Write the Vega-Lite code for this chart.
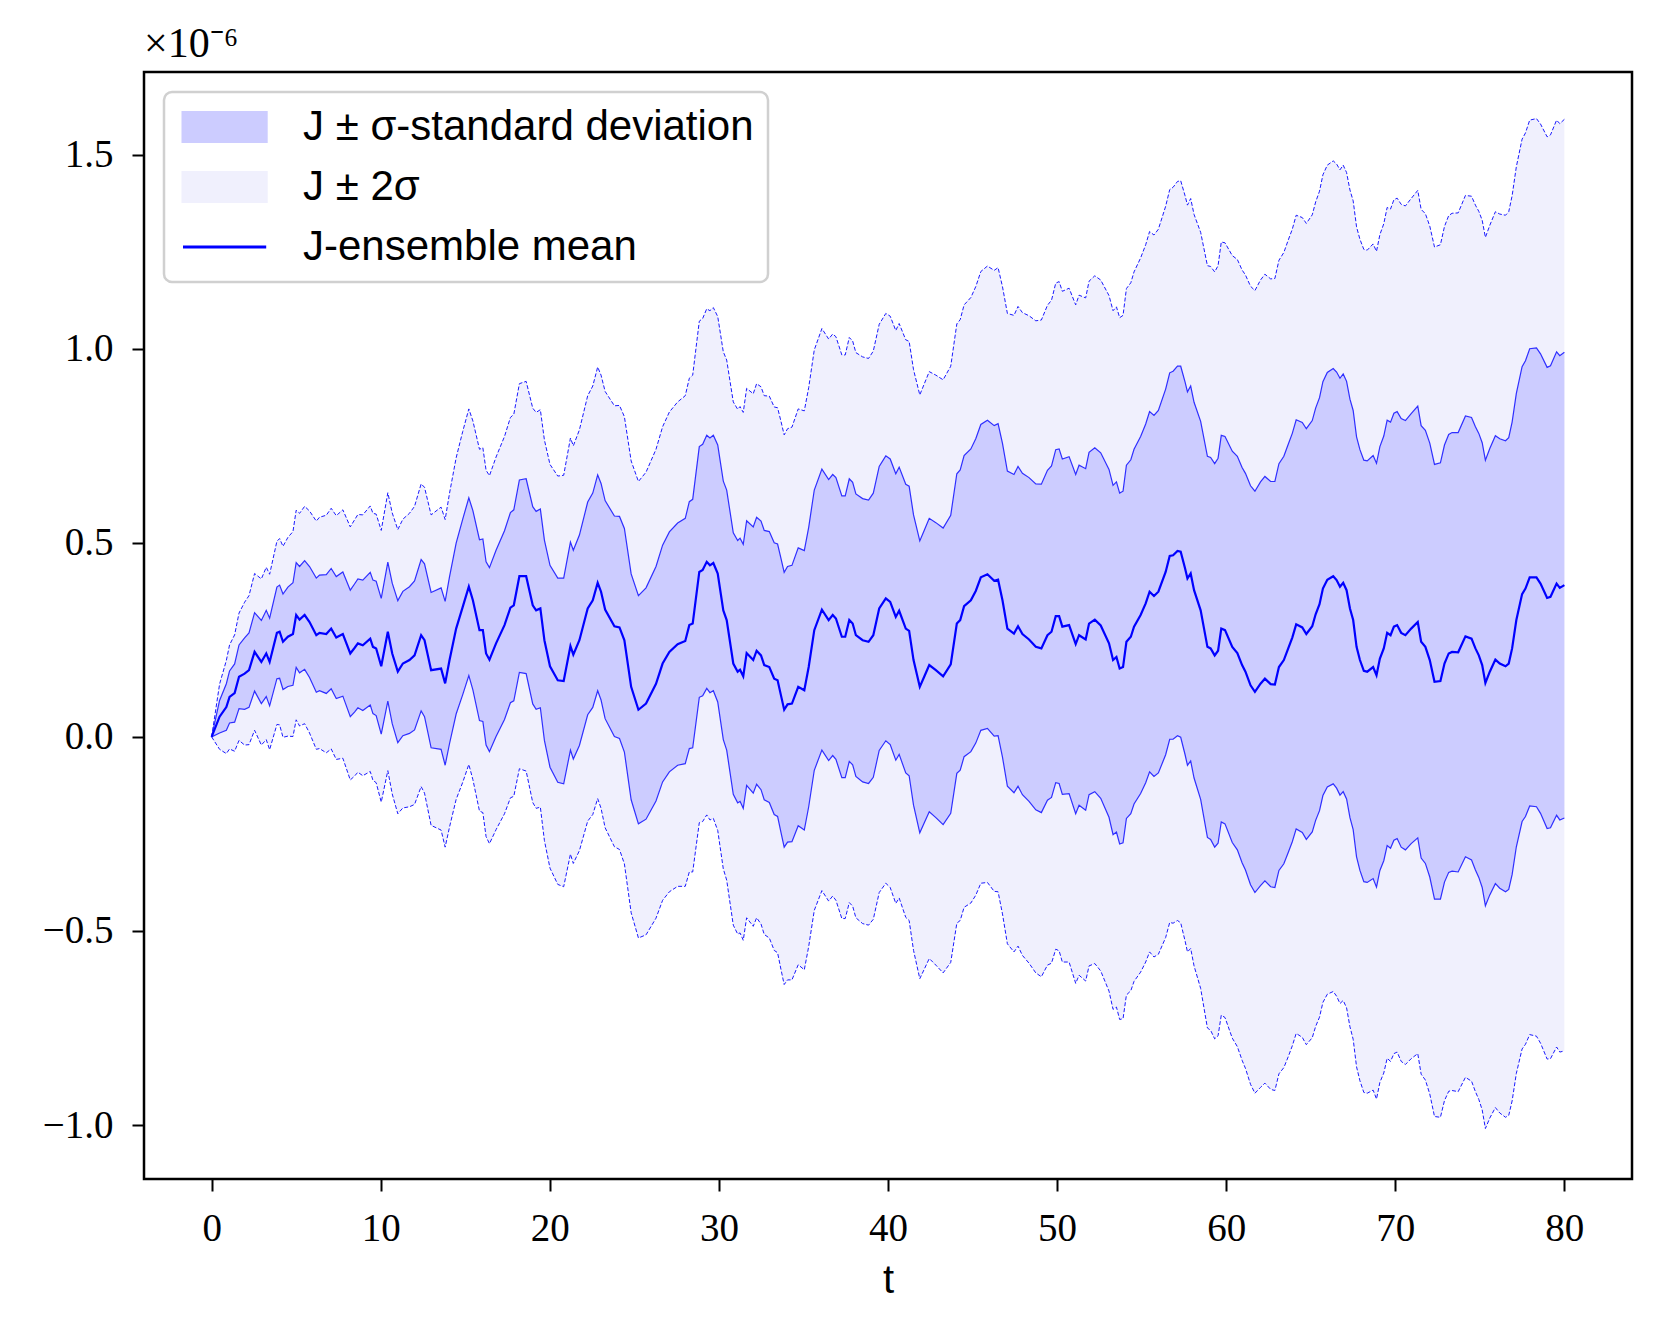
{
"$schema": "https://vega.github.io/schema/vega-lite/v6.json",
"width": 1488, "height": 1107,
"autosize": {"type": "none"},
"padding": {"left": 144, "top": 72, "right": 30, "bottom": 154},
"background": "white",
"title": {"text": "×10⁻⁶", "anchor": "start", "frame": "group", "font": "Liberation Serif", "fontSize": 42, "fontWeight": "normal", "offset": 6, "color": "black"},
"config": {
  "view": {"stroke": "black", "strokeWidth": 2.5},
  "axis": {"domain": false, "grid": false, "tickColor": "black", "tickWidth": 2, "tickSize": 12, "labelColor": "black", "labelFont": "Liberation Serif", "labelFontSize": 39, "titleColor": "black"},
  "legend": {"orient": "top-left", "offset": 20, "title": null, "labelFont": "Liberation Sans", "labelFontSize": 42, "labelColor": "black", "labelOffset": 83, "padding": 14, "rowPadding": 18, "cornerRadius": 8, "strokeColor": "#d0d0d0", "strokeWidth": 2.5, "fillColor": "rgba(255,255,255,0.85)", "symbolSize": 1024, "symbolStrokeWidth": 3, "symbolType": "M-1,-0.9H4.2V0.9H-1Z", "labelLimit": 900}
},
"data": {"values": [
{"t":0,"mean":0,"lo2":0,"lo1":0,"hi1":0,"hi2":0},
{"t":0.47,"mean":0.052,"lo2":-0.032,"lo1":0.010,"hi1":0.094,"hi2":0.136},
{"t":0.87,"mean":0.077,"lo2":-0.043,"lo1":0.017,"hi1":0.137,"hi2":0.197},
{"t":1.06,"mean":0.103,"lo2":-0.031,"lo1":0.036,"hi1":0.170,"hi2":0.237},
{"t":1.36,"mean":0.113,"lo2":-0.037,"lo1":0.038,"hi1":0.188,"hi2":0.263},
{"t":1.62,"mean":0.155,"lo2":-0.009,"lo1":0.073,"hi1":0.237,"hi2":0.319},
{"t":1.95,"mean":0.163,"lo2":-0.021,"lo1":0.071,"hi1":0.255,"hi2":0.347},
{"t":2.21,"mean":0.172,"lo2":-0.020,"lo1":0.076,"hi1":0.268,"hi2":0.364},
{"t":2.54,"mean":0.219,"lo2":0.017,"lo1":0.118,"hi1":0.320,"hi2":0.421},
{"t":2.94,"mean":0.193,"lo2":-0.021,"lo1":0.086,"hi1":0.300,"hi2":0.407},
{"t":3.23,"mean":0.215,"lo2":-0.007,"lo1":0.104,"hi1":0.326,"hi2":0.437},
{"t":3.43,"mean":0.193,"lo2":-0.033,"lo1":0.080,"hi1":0.306,"hi2":0.419},
{"t":3.86,"mean":0.268,"lo2":0.032,"lo1":0.150,"hi1":0.386,"hi2":0.504},
{"t":4.02,"mean":0.271,"lo2":0.031,"lo1":0.151,"hi1":0.391,"hi2":0.511},
{"t":4.22,"mean":0.245,"lo2":-0.001,"lo1":0.122,"hi1":0.368,"hi2":0.491},
{"t":4.51,"mean":0.258,"lo2":0.002,"lo1":0.130,"hi1":0.386,"hi2":0.514},
{"t":4.81,"mean":0.265,"lo2":0.001,"lo1":0.133,"hi1":0.397,"hi2":0.529},
{"t":5.0,"mean":0.314,"lo2":0.044,"lo1":0.179,"hi1":0.449,"hi2":0.584},
{"t":5.2,"mean":0.302,"lo2":0.028,"lo1":0.165,"hi1":0.439,"hi2":0.576},
{"t":5.5,"mean":0.314,"lo2":0.034,"lo1":0.174,"hi1":0.454,"hi2":0.594},
{"t":5.79,"mean":0.296,"lo2":0.010,"lo1":0.153,"hi1":0.439,"hi2":0.582},
{"t":6.19,"mean":0.262,"lo2":-0.032,"lo1":0.115,"hi1":0.409,"hi2":0.556},
{"t":6.38,"mean":0.268,"lo2":-0.030,"lo1":0.119,"hi1":0.417,"hi2":0.566},
{"t":6.78,"mean":0.265,"lo2":-0.041,"lo1":0.112,"hi1":0.418,"hi2":0.571},
{"t":7.07,"mean":0.279,"lo2":-0.031,"lo1":0.124,"hi1":0.434,"hi2":0.589},
{"t":7.37,"mean":0.256,"lo2":-0.058,"lo1":0.099,"hi1":0.413,"hi2":0.570},
{"t":7.76,"mean":0.265,"lo2":-0.055,"lo1":0.105,"hi1":0.425,"hi2":0.585},
{"t":8.2,"mean":0.215,"lo2":-0.111,"lo1":0.052,"hi1":0.378,"hi2":0.541},
{"t":8.45,"mean":0.229,"lo2":-0.101,"lo1":0.064,"hi1":0.394,"hi2":0.559},
{"t":8.65,"mean":0.241,"lo2":-0.091,"lo1":0.075,"hi1":0.407,"hi2":0.573},
{"t":8.94,"mean":0.236,"lo2":-0.100,"lo1":0.068,"hi1":0.404,"hi2":0.572},
{"t":9.38,"mean":0.253,"lo2":-0.089,"lo1":0.082,"hi1":0.424,"hi2":0.595},
{"t":9.54,"mean":0.232,"lo2":-0.112,"lo1":0.060,"hi1":0.404,"hi2":0.576},
{"t":9.73,"mean":0.228,"lo2":-0.118,"lo1":0.055,"hi1":0.401,"hi2":0.574},
{"t":10.03,"mean":0.182,"lo2":-0.168,"lo1":0.007,"hi1":0.357,"hi2":0.532},
{"t":10.42,"mean":0.271,"lo2":-0.087,"lo1":0.092,"hi1":0.450,"hi2":0.629},
{"t":10.68,"mean":0.215,"lo2":-0.147,"lo1":0.034,"hi1":0.396,"hi2":0.577},
{"t":11.01,"mean":0.168,"lo2":-0.198,"lo1":-0.015,"hi1":0.351,"hi2":0.534},
{"t":11.31,"mean":0.189,"lo2":-0.183,"lo1":0.003,"hi1":0.375,"hi2":0.561},
{"t":11.7,"mean":0.198,"lo2":-0.180,"lo1":0.009,"hi1":0.387,"hi2":0.576},
{"t":12.0,"mean":0.210,"lo2":-0.174,"lo1":0.018,"hi1":0.402,"hi2":0.594},
{"t":12.39,"mean":0.262,"lo2":-0.128,"lo1":0.067,"hi1":0.457,"hi2":0.652},
{"t":12.59,"mean":0.249,"lo2":-0.145,"lo1":0.052,"hi1":0.446,"hi2":0.643},
{"t":12.98,"mean":0.172,"lo2":-0.228,"lo1":-0.028,"hi1":0.372,"hi2":0.572},
{"t":13.57,"mean":0.176,"lo2":-0.240,"lo1":-0.032,"hi1":0.384,"hi2":0.592},
{"t":13.81,"mean":0.138,"lo2":-0.284,"lo1":-0.073,"hi1":0.349,"hi2":0.560},
{"t":14.07,"mean":0.198,"lo2":-0.232,"lo1":-0.017,"hi1":0.413,"hi2":0.628},
{"t":14.46,"mean":0.279,"lo2":-0.161,"lo1":0.059,"hi1":0.499,"hi2":0.719},
{"t":14.85,"mean":0.335,"lo2":-0.117,"lo1":0.109,"hi1":0.561,"hi2":0.787},
{"t":15.21,"mean":0.387,"lo2":-0.071,"lo1":0.158,"hi1":0.616,"hi2":0.845},
{"t":15.45,"mean":0.352,"lo2":-0.110,"lo1":0.121,"hi1":0.583,"hi2":0.814},
{"t":15.84,"mean":0.275,"lo2":-0.191,"lo1":0.042,"hi1":0.508,"hi2":0.741},
{"t":16.04,"mean":0.275,"lo2":-0.195,"lo1":0.040,"hi1":0.510,"hi2":0.745},
{"t":16.23,"mean":0.215,"lo2":-0.257,"lo1":-0.021,"hi1":0.451,"hi2":0.687},
{"t":16.43,"mean":0.199,"lo2":-0.275,"lo1":-0.038,"hi1":0.436,"hi2":0.673},
{"t":16.82,"mean":0.241,"lo2":-0.239,"lo1":0.001,"hi1":0.481,"hi2":0.721},
{"t":17.32,"mean":0.288,"lo2":-0.198,"lo1":0.045,"hi1":0.531,"hi2":0.774},
{"t":17.67,"mean":0.333,"lo2":-0.157,"lo1":0.088,"hi1":0.578,"hi2":0.823},
{"t":17.87,"mean":0.339,"lo2":-0.153,"lo1":0.093,"hi1":0.585,"hi2":0.831},
{"t":18.2,"mean":0.414,"lo2":-0.082,"lo1":0.166,"hi1":0.662,"hi2":0.910},
{"t":18.6,"mean":0.414,"lo2":-0.088,"lo1":0.163,"hi1":0.665,"hi2":0.916},
{"t":18.99,"mean":0.339,"lo2":-0.169,"lo1":0.085,"hi1":0.593,"hi2":0.847},
{"t":19.19,"mean":0.326,"lo2":-0.184,"lo1":0.071,"hi1":0.581,"hi2":0.836},
{"t":19.44,"mean":0.331,"lo2":-0.181,"lo1":0.075,"hi1":0.587,"hi2":0.843},
{"t":19.68,"mean":0.249,"lo2":-0.267,"lo1":-0.009,"hi1":0.507,"hi2":0.765},
{"t":20.01,"mean":0.182,"lo2":-0.338,"lo1":-0.078,"hi1":0.442,"hi2":0.702},
{"t":20.47,"mean":0.146,"lo2":-0.380,"lo1":-0.117,"hi1":0.409,"hi2":0.672},
{"t":20.82,"mean":0.144,"lo2":-0.386,"lo1":-0.121,"hi1":0.409,"hi2":0.674},
{"t":21.22,"mean":0.234,"lo2":-0.302,"lo1":-0.034,"hi1":0.502,"hi2":0.770},
{"t":21.39,"mean":0.212,"lo2":-0.326,"lo1":-0.057,"hi1":0.481,"hi2":0.750},
{"t":21.75,"mean":0.249,"lo2":-0.293,"lo1":-0.022,"hi1":0.520,"hi2":0.791},
{"t":22.24,"mean":0.331,"lo2":-0.217,"lo1":0.057,"hi1":0.605,"hi2":0.879},
{"t":22.54,"mean":0.352,"lo2":-0.200,"lo1":0.076,"hi1":0.628,"hi2":0.904},
{"t":22.83,"mean":0.397,"lo2":-0.159,"lo1":0.119,"hi1":0.675,"hi2":0.953},
{"t":23.03,"mean":0.374,"lo2":-0.184,"lo1":0.095,"hi1":0.653,"hi2":0.932},
{"t":23.27,"mean":0.328,"lo2":-0.234,"lo1":0.047,"hi1":0.609,"hi2":0.890},
{"t":23.82,"mean":0.285,"lo2":-0.283,"lo1":0.001,"hi1":0.569,"hi2":0.853},
{"t":24.12,"mean":0.282,"lo2":-0.290,"lo1":-0.004,"hi1":0.568,"hi2":0.854},
{"t":24.41,"mean":0.249,"lo2":-0.327,"lo1":-0.039,"hi1":0.537,"hi2":0.825},
{"t":24.81,"mean":0.129,"lo2":-0.453,"lo1":-0.162,"hi1":0.420,"hi2":0.711},
{"t":25.24,"mean":0.070,"lo2":-0.518,"lo1":-0.224,"hi1":0.364,"hi2":0.658},
{"t":25.69,"mean":0.086,"lo2":-0.510,"lo1":-0.212,"hi1":0.384,"hi2":0.682},
{"t":26.28,"mean":0.137,"lo2":-0.467,"lo1":-0.165,"hi1":0.439,"hi2":0.741},
{"t":26.67,"mean":0.189,"lo2":-0.421,"lo1":-0.116,"hi1":0.494,"hi2":0.799},
{"t":27.07,"mean":0.219,"lo2":-0.399,"lo1":-0.090,"hi1":0.528,"hi2":0.837},
{"t":27.56,"mean":0.239,"lo2":-0.385,"lo1":-0.073,"hi1":0.551,"hi2":0.863},
{"t":28.01,"mean":0.247,"lo2":-0.385,"lo1":-0.069,"hi1":0.563,"hi2":0.879},
{"t":28.25,"mean":0.288,"lo2":-0.348,"lo1":-0.030,"hi1":0.606,"hi2":0.924},
{"t":28.45,"mean":0.292,"lo2":-0.348,"lo1":-0.028,"hi1":0.612,"hi2":0.932},
{"t":28.84,"mean":0.425,"lo2":-0.221,"lo1":0.102,"hi1":0.748,"hi2":1.071},
{"t":29.04,"mean":0.430,"lo2":-0.218,"lo1":0.106,"hi1":0.754,"hi2":1.078},
{"t":29.28,"mean":0.451,"lo2":-0.201,"lo1":0.125,"hi1":0.777,"hi2":1.103},
{"t":29.47,"mean":0.442,"lo2":-0.214,"lo1":0.114,"hi1":0.770,"hi2":1.098},
{"t":29.67,"mean":0.448,"lo2":-0.210,"lo1":0.119,"hi1":0.777,"hi2":1.106},
{"t":29.93,"mean":0.421,"lo2":-0.241,"lo1":0.090,"hi1":0.752,"hi2":1.083},
{"t":30.26,"mean":0.326,"lo2":-0.340,"lo1":-0.007,"hi1":0.659,"hi2":0.992},
{"t":30.46,"mean":0.301,"lo2":-0.369,"lo1":-0.034,"hi1":0.636,"hi2":0.971},
{"t":30.85,"mean":0.189,"lo2":-0.485,"lo1":-0.148,"hi1":0.526,"hi2":0.863},
{"t":31.11,"mean":0.168,"lo2":-0.508,"lo1":-0.170,"hi1":0.506,"hi2":0.844},
{"t":31.25,"mean":0.173,"lo2":-0.505,"lo1":-0.166,"hi1":0.512,"hi2":0.851},
{"t":31.44,"mean":0.156,"lo2":-0.524,"lo1":-0.184,"hi1":0.496,"hi2":0.836},
{"t":31.64,"mean":0.216,"lo2":-0.466,"lo1":-0.125,"hi1":0.557,"hi2":0.898},
{"t":32.03,"mean":0.198,"lo2":-0.488,"lo1":-0.145,"hi1":0.541,"hi2":0.884},
{"t":32.23,"mean":0.222,"lo2":-0.466,"lo1":-0.122,"hi1":0.566,"hi2":0.910},
{"t":32.49,"mean":0.210,"lo2":-0.482,"lo1":-0.136,"hi1":0.556,"hi2":0.902},
{"t":32.68,"mean":0.185,"lo2":-0.509,"lo1":-0.162,"hi1":0.532,"hi2":0.879},
{"t":32.98,"mean":0.180,"lo2":-0.518,"lo1":-0.169,"hi1":0.529,"hi2":0.878},
{"t":33.27,"mean":0.150,"lo2":-0.550,"lo1":-0.200,"hi1":0.500,"hi2":0.850},
{"t":33.47,"mean":0.146,"lo2":-0.556,"lo1":-0.205,"hi1":0.497,"hi2":0.848},
{"t":33.67,"mean":0.107,"lo2":-0.599,"lo1":-0.246,"hi1":0.460,"hi2":0.813},
{"t":33.86,"mean":0.070,"lo2":-0.638,"lo1":-0.284,"hi1":0.424,"hi2":0.778},
{"t":34.06,"mean":0.084,"lo2":-0.626,"lo1":-0.271,"hi1":0.439,"hi2":0.794},
{"t":34.32,"mean":0.086,"lo2":-0.626,"lo1":-0.270,"hi1":0.442,"hi2":0.798},
{"t":34.69,"mean":0.129,"lo2":-0.587,"lo1":-0.229,"hi1":0.487,"hi2":0.845},
{"t":35.05,"mean":0.120,"lo2":-0.600,"lo1":-0.240,"hi1":0.480,"hi2":0.840},
{"t":35.31,"mean":0.180,"lo2":-0.540,"lo1":-0.180,"hi1":0.540,"hi2":0.900},
{"t":35.64,"mean":0.275,"lo2":-0.447,"lo1":-0.086,"hi1":0.636,"hi2":0.997},
{"t":36.09,"mean":0.328,"lo2":-0.396,"lo1":-0.034,"hi1":0.690,"hi2":1.052},
{"t":36.49,"mean":0.301,"lo2":-0.423,"lo1":-0.061,"hi1":0.663,"hi2":1.025},
{"t":36.73,"mean":0.314,"lo2":-0.410,"lo1":-0.048,"hi1":0.676,"hi2":1.038},
{"t":36.92,"mean":0.305,"lo2":-0.421,"lo1":-0.058,"hi1":0.668,"hi2":1.031},
{"t":37.27,"mean":0.258,"lo2":-0.468,"lo1":-0.105,"hi1":0.621,"hi2":0.984},
{"t":37.47,"mean":0.258,"lo2":-0.468,"lo1":-0.105,"hi1":0.621,"hi2":0.984},
{"t":37.71,"mean":0.301,"lo2":-0.427,"lo1":-0.063,"hi1":0.665,"hi2":1.029},
{"t":37.91,"mean":0.292,"lo2":-0.436,"lo1":-0.072,"hi1":0.656,"hi2":1.020},
{"t":38.1,"mean":0.262,"lo2":-0.466,"lo1":-0.102,"hi1":0.626,"hi2":0.990},
{"t":38.5,"mean":0.249,"lo2":-0.481,"lo1":-0.116,"hi1":0.614,"hi2":0.979},
{"t":38.85,"mean":0.245,"lo2":-0.485,"lo1":-0.120,"hi1":0.610,"hi2":0.975},
{"t":39.13,"mean":0.262,"lo2":-0.470,"lo1":-0.104,"hi1":0.628,"hi2":0.994},
{"t":39.48,"mean":0.331,"lo2":-0.401,"lo1":-0.035,"hi1":0.697,"hi2":1.063},
{"t":39.87,"mean":0.357,"lo2":-0.377,"lo1":-0.010,"hi1":0.724,"hi2":1.091},
{"t":40.13,"mean":0.348,"lo2":-0.388,"lo1":-0.020,"hi1":0.716,"hi2":1.084},
{"t":40.46,"mean":0.309,"lo2":-0.429,"lo1":-0.060,"hi1":0.678,"hi2":1.047},
{"t":40.66,"mean":0.325,"lo2":-0.415,"lo1":-0.045,"hi1":0.695,"hi2":1.065},
{"t":41.05,"mean":0.279,"lo2":-0.465,"lo1":-0.093,"hi1":0.651,"hi2":1.023},
{"t":41.25,"mean":0.273,"lo2":-0.473,"lo1":-0.100,"hi1":0.646,"hi2":1.019},
{"t":41.51,"mean":0.198,"lo2":-0.550,"lo1":-0.176,"hi1":0.572,"hi2":0.946},
{"t":41.88,"mean":0.129,"lo2":-0.623,"lo1":-0.247,"hi1":0.505,"hi2":0.881},
{"t":42.14,"mean":0.155,"lo2":-0.599,"lo1":-0.222,"hi1":0.532,"hi2":0.909},
{"t":42.44,"mean":0.185,"lo2":-0.571,"lo1":-0.193,"hi1":0.563,"hi2":0.941},
{"t":42.83,"mean":0.172,"lo2":-0.588,"lo1":-0.208,"hi1":0.552,"hi2":0.932},
{"t":43.26,"mean":0.156,"lo2":-0.608,"lo1":-0.226,"hi1":0.538,"hi2":0.920},
{"t":43.71,"mean":0.187,"lo2":-0.581,"lo1":-0.197,"hi1":0.571,"hi2":0.955},
{"t":44.07,"mean":0.292,"lo2":-0.480,"lo1":-0.094,"hi1":0.678,"hi2":1.064},
{"t":44.27,"mean":0.301,"lo2":-0.473,"lo1":-0.086,"hi1":0.688,"hi2":1.075},
{"t":44.5,"mean":0.337,"lo2":-0.439,"lo1":-0.051,"hi1":0.725,"hi2":1.113},
{"t":44.9,"mean":0.352,"lo2":-0.428,"lo1":-0.038,"hi1":0.742,"hi2":1.132},
{"t":45.19,"mean":0.376,"lo2":-0.408,"lo1":-0.016,"hi1":0.768,"hi2":1.160},
{"t":45.49,"mean":0.411,"lo2":-0.377,"lo1":0.017,"hi1":0.805,"hi2":1.199},
{"t":45.88,"mean":0.419,"lo2":-0.375,"lo1":0.022,"hi1":0.816,"hi2":1.213},
{"t":46.28,"mean":0.402,"lo2":-0.398,"lo1":0.002,"hi1":0.802,"hi2":1.202},
{"t":46.51,"mean":0.405,"lo2":-0.399,"lo1":0.003,"hi1":0.807,"hi2":1.209},
{"t":46.77,"mean":0.352,"lo2":-0.456,"lo1":-0.052,"hi1":0.756,"hi2":1.160},
{"t":47.06,"mean":0.279,"lo2":-0.533,"lo1":-0.127,"hi1":0.685,"hi2":1.091},
{"t":47.45,"mean":0.266,"lo2":-0.554,"lo1":-0.144,"hi1":0.676,"hi2":1.086},
{"t":47.69,"mean":0.285,"lo2":-0.539,"lo1":-0.127,"hi1":0.697,"hi2":1.109},
{"t":47.95,"mean":0.265,"lo2":-0.563,"lo1":-0.149,"hi1":0.679,"hi2":1.093},
{"t":48.34,"mean":0.251,"lo2":-0.583,"lo1":-0.166,"hi1":0.668,"hi2":1.085},
{"t":48.74,"mean":0.232,"lo2":-0.608,"lo1":-0.188,"hi1":0.652,"hi2":1.072},
{"t":49.07,"mean":0.228,"lo2":-0.618,"lo1":-0.195,"hi1":0.651,"hi2":1.074},
{"t":49.43,"mean":0.262,"lo2":-0.588,"lo1":-0.163,"hi1":0.687,"hi2":1.112},
{"t":49.67,"mean":0.271,"lo2":-0.583,"lo1":-0.156,"hi1":0.698,"hi2":1.125},
{"t":49.92,"mean":0.311,"lo2":-0.547,"lo1":-0.118,"hi1":0.740,"hi2":1.169},
{"t":50.12,"mean":0.311,"lo2":-0.551,"lo1":-0.120,"hi1":0.742,"hi2":1.173},
{"t":50.31,"mean":0.284,"lo2":-0.580,"lo1":-0.148,"hi1":0.716,"hi2":1.148},
{"t":50.71,"mean":0.288,"lo2":-0.580,"lo1":-0.146,"hi1":0.722,"hi2":1.156},
{"t":51.1,"mean":0.239,"lo2":-0.635,"lo1":-0.198,"hi1":0.676,"hi2":1.113},
{"t":51.3,"mean":0.262,"lo2":-0.614,"lo1":-0.176,"hi1":0.700,"hi2":1.138},
{"t":51.69,"mean":0.251,"lo2":-0.629,"lo1":-0.189,"hi1":0.691,"hi2":1.131},
{"t":51.89,"mean":0.292,"lo2":-0.590,"lo1":-0.149,"hi1":0.733,"hi2":1.174},
{"t":52.23,"mean":0.302,"lo2":-0.584,"lo1":-0.141,"hi1":0.745,"hi2":1.188},
{"t":52.58,"mean":0.287,"lo2":-0.603,"lo1":-0.158,"hi1":0.732,"hi2":1.177},
{"t":53.07,"mean":0.241,"lo2":-0.655,"lo1":-0.207,"hi1":0.689,"hi2":1.137},
{"t":53.31,"mean":0.198,"lo2":-0.702,"lo1":-0.252,"hi1":0.648,"hi2":1.098},
{"t":53.51,"mean":0.206,"lo2":-0.696,"lo1":-0.245,"hi1":0.657,"hi2":1.108},
{"t":53.7,"mean":0.176,"lo2":-0.728,"lo1":-0.276,"hi1":0.628,"hi2":1.080},
{"t":53.9,"mean":0.180,"lo2":-0.726,"lo1":-0.273,"hi1":0.633,"hi2":1.086},
{"t":54.1,"mean":0.245,"lo2":-0.665,"lo1":-0.210,"hi1":0.700,"hi2":1.155},
{"t":54.36,"mean":0.258,"lo2":-0.654,"lo1":-0.198,"hi1":0.714,"hi2":1.170},
{"t":54.55,"mean":0.284,"lo2":-0.630,"lo1":-0.173,"hi1":0.741,"hi2":1.198},
{"t":54.94,"mean":0.314,"lo2":-0.606,"lo1":-0.146,"hi1":0.774,"hi2":1.234},
{"t":55.24,"mean":0.344,"lo2":-0.580,"lo1":-0.118,"hi1":0.806,"hi2":1.268},
{"t":55.47,"mean":0.374,"lo2":-0.554,"lo1":-0.090,"hi1":0.838,"hi2":1.302},
{"t":55.73,"mean":0.363,"lo2":-0.567,"lo1":-0.102,"hi1":0.828,"hi2":1.293},
{"t":55.99,"mean":0.374,"lo2":-0.560,"lo1":-0.093,"hi1":0.841,"hi2":1.308},
{"t":56.42,"mean":0.425,"lo2":-0.517,"lo1":-0.046,"hi1":0.896,"hi2":1.367},
{"t":56.66,"mean":0.466,"lo2":-0.478,"lo1":-0.006,"hi1":0.938,"hi2":1.410},
{"t":56.86,"mean":0.468,"lo2":-0.480,"lo1":-0.006,"hi1":0.942,"hi2":1.416},
{"t":57.12,"mean":0.479,"lo2":-0.473,"lo1":0.003,"hi1":0.955,"hi2":1.431},
{"t":57.31,"mean":0.477,"lo2":-0.479,"lo1":-0.001,"hi1":0.955,"hi2":1.433},
{"t":57.57,"mean":0.434,"lo2":-0.526,"lo1":-0.046,"hi1":0.914,"hi2":1.394},
{"t":57.71,"mean":0.408,"lo2":-0.554,"lo1":-0.073,"hi1":0.889,"hi2":1.370},
{"t":57.9,"mean":0.421,"lo2":-0.545,"lo1":-0.062,"hi1":0.904,"hi2":1.387},
{"t":58.1,"mean":0.378,"lo2":-0.590,"lo1":-0.106,"hi1":0.862,"hi2":1.346},
{"t":58.49,"mean":0.326,"lo2":-0.648,"lo1":-0.161,"hi1":0.813,"hi2":1.300},
{"t":58.89,"mean":0.232,"lo2":-0.750,"lo1":-0.259,"hi1":0.723,"hi2":1.214},
{"t":59.08,"mean":0.228,"lo2":-0.756,"lo1":-0.264,"hi1":0.720,"hi2":1.212},
{"t":59.32,"mean":0.210,"lo2":-0.778,"lo1":-0.284,"hi1":0.704,"hi2":1.198},
{"t":59.52,"mean":0.222,"lo2":-0.770,"lo1":-0.274,"hi1":0.718,"hi2":1.214},
{"t":59.71,"mean":0.279,"lo2":-0.717,"lo1":-0.219,"hi1":0.777,"hi2":1.275},
{"t":59.93,"mean":0.275,"lo2":-0.723,"lo1":-0.224,"hi1":0.774,"hi2":1.273},
{"t":60.36,"mean":0.232,"lo2":-0.776,"lo1":-0.272,"hi1":0.736,"hi2":1.240},
{"t":60.66,"mean":0.216,"lo2":-0.798,"lo1":-0.291,"hi1":0.723,"hi2":1.230},
{"t":60.94,"mean":0.185,"lo2":-0.833,"lo1":-0.324,"hi1":0.694,"hi2":1.203},
{"t":61.14,"mean":0.168,"lo2":-0.854,"lo1":-0.343,"hi1":0.679,"hi2":1.190},
{"t":61.44,"mean":0.133,"lo2":-0.895,"lo1":-0.381,"hi1":0.647,"hi2":1.161},
{"t":61.7,"mean":0.116,"lo2":-0.918,"lo1":-0.401,"hi1":0.633,"hi2":1.150},
{"t":62.03,"mean":0.137,"lo2":-0.903,"lo1":-0.383,"hi1":0.657,"hi2":1.177},
{"t":62.29,"mean":0.150,"lo2":-0.892,"lo1":-0.371,"hi1":0.671,"hi2":1.192},
{"t":62.63,"mean":0.136,"lo2":-0.908,"lo1":-0.386,"hi1":0.658,"hi2":1.180},
{"t":62.88,"mean":0.135,"lo2":-0.911,"lo1":-0.388,"hi1":0.658,"hi2":1.181},
{"t":63.12,"mean":0.180,"lo2":-0.868,"lo1":-0.344,"hi1":0.704,"hi2":1.228},
{"t":63.41,"mean":0.198,"lo2":-0.852,"lo1":-0.327,"hi1":0.723,"hi2":1.248},
{"t":63.67,"mean":0.228,"lo2":-0.824,"lo1":-0.298,"hi1":0.754,"hi2":1.280},
{"t":63.91,"mean":0.256,"lo2":-0.796,"lo1":-0.270,"hi1":0.782,"hi2":1.308},
{"t":64.14,"mean":0.290,"lo2":-0.764,"lo1":-0.237,"hi1":0.817,"hi2":1.344},
{"t":64.5,"mean":0.282,"lo2":-0.774,"lo1":-0.246,"hi1":0.810,"hi2":1.338},
{"t":64.74,"mean":0.265,"lo2":-0.793,"lo1":-0.264,"hi1":0.794,"hi2":1.323},
{"t":65.09,"mean":0.285,"lo2":-0.775,"lo1":-0.245,"hi1":0.815,"hi2":1.345},
{"t":65.29,"mean":0.316,"lo2":-0.746,"lo1":-0.215,"hi1":0.847,"hi2":1.378},
{"t":65.52,"mean":0.342,"lo2":-0.722,"lo1":-0.190,"hi1":0.874,"hi2":1.406},
{"t":65.72,"mean":0.382,"lo2":-0.684,"lo1":-0.151,"hi1":0.915,"hi2":1.448},
{"t":65.98,"mean":0.405,"lo2":-0.663,"lo1":-0.129,"hi1":0.939,"hi2":1.473},
{"t":66.33,"mean":0.414,"lo2":-0.656,"lo1":-0.121,"hi1":0.949,"hi2":1.484},
{"t":66.53,"mean":0.404,"lo2":-0.668,"lo1":-0.132,"hi1":0.940,"hi2":1.476},
{"t":66.73,"mean":0.387,"lo2":-0.687,"lo1":-0.150,"hi1":0.924,"hi2":1.461},
{"t":66.92,"mean":0.397,"lo2":-0.679,"lo1":-0.141,"hi1":0.935,"hi2":1.473},
{"t":67.12,"mean":0.378,"lo2":-0.698,"lo1":-0.160,"hi1":0.916,"hi2":1.454},
{"t":67.32,"mean":0.331,"lo2":-0.747,"lo1":-0.208,"hi1":0.870,"hi2":1.409},
{"t":67.51,"mean":0.301,"lo2":-0.779,"lo1":-0.239,"hi1":0.841,"hi2":1.381},
{"t":67.71,"mean":0.232,"lo2":-0.850,"lo1":-0.309,"hi1":0.773,"hi2":1.314},
{"t":67.91,"mean":0.198,"lo2":-0.886,"lo1":-0.344,"hi1":0.740,"hi2":1.282},
{"t":68.14,"mean":0.170,"lo2":-0.916,"lo1":-0.373,"hi1":0.713,"hi2":1.256},
{"t":68.34,"mean":0.168,"lo2":-0.918,"lo1":-0.375,"hi1":0.711,"hi2":1.254},
{"t":68.69,"mean":0.180,"lo2":-0.910,"lo1":-0.365,"hi1":0.725,"hi2":1.270},
{"t":68.89,"mean":0.159,"lo2":-0.933,"lo1":-0.387,"hi1":0.705,"hi2":1.251},
{"t":69.09,"mean":0.202,"lo2":-0.890,"lo1":-0.344,"hi1":0.748,"hi2":1.294},
{"t":69.32,"mean":0.228,"lo2":-0.866,"lo1":-0.319,"hi1":0.775,"hi2":1.322},
{"t":69.52,"mean":0.268,"lo2":-0.828,"lo1":-0.280,"hi1":0.816,"hi2":1.364},
{"t":69.72,"mean":0.262,"lo2":-0.836,"lo1":-0.287,"hi1":0.811,"hi2":1.360},
{"t":69.92,"mean":0.284,"lo2":-0.816,"lo1":-0.266,"hi1":0.834,"hi2":1.384},
{"t":70.11,"mean":0.288,"lo2":-0.812,"lo1":-0.262,"hi1":0.838,"hi2":1.388},
{"t":70.35,"mean":0.268,"lo2":-0.836,"lo1":-0.284,"hi1":0.820,"hi2":1.372},
{"t":70.6,"mean":0.262,"lo2":-0.844,"lo1":-0.291,"hi1":0.815,"hi2":1.368},
{"t":70.94,"mean":0.279,"lo2":-0.829,"lo1":-0.275,"hi1":0.833,"hi2":1.387},
{"t":71.33,"mean":0.296,"lo2":-0.816,"lo1":-0.260,"hi1":0.852,"hi2":1.408},
{"t":71.53,"mean":0.245,"lo2":-0.869,"lo1":-0.312,"hi1":0.802,"hi2":1.359},
{"t":71.78,"mean":0.232,"lo2":-0.884,"lo1":-0.326,"hi1":0.790,"hi2":1.348},
{"t":72.04,"mean":0.198,"lo2":-0.920,"lo1":-0.361,"hi1":0.757,"hi2":1.316},
{"t":72.32,"mean":0.142,"lo2":-0.978,"lo1":-0.418,"hi1":0.702,"hi2":1.262},
{"t":72.67,"mean":0.144,"lo2":-0.980,"lo1":-0.418,"hi1":0.706,"hi2":1.268},
{"t":72.91,"mean":0.189,"lo2":-0.937,"lo1":-0.374,"hi1":0.752,"hi2":1.315},
{"t":73.16,"mean":0.215,"lo2":-0.913,"lo1":-0.349,"hi1":0.779,"hi2":1.343},
{"t":73.36,"mean":0.219,"lo2":-0.911,"lo1":-0.346,"hi1":0.784,"hi2":1.349},
{"t":73.72,"mean":0.218,"lo2":-0.914,"lo1":-0.348,"hi1":0.784,"hi2":1.350},
{"t":74.15,"mean":0.259,"lo2":-0.877,"lo1":-0.309,"hi1":0.827,"hi2":1.395},
{"t":74.51,"mean":0.253,"lo2":-0.887,"lo1":-0.317,"hi1":0.823,"hi2":1.393},
{"t":74.74,"mean":0.228,"lo2":-0.914,"lo1":-0.343,"hi1":0.799,"hi2":1.370},
{"t":74.94,"mean":0.210,"lo2":-0.934,"lo1":-0.362,"hi1":0.782,"hi2":1.354},
{"t":75.14,"mean":0.185,"lo2":-0.961,"lo1":-0.388,"hi1":0.758,"hi2":1.331},
{"t":75.33,"mean":0.139,"lo2":-1.009,"lo1":-0.435,"hi1":0.713,"hi2":1.287},
{"t":75.59,"mean":0.168,"lo2":-0.982,"lo1":-0.407,"hi1":0.743,"hi2":1.318},
{"t":75.92,"mean":0.199,"lo2":-0.955,"lo1":-0.378,"hi1":0.776,"hi2":1.353},
{"t":76.18,"mean":0.189,"lo2":-0.969,"lo1":-0.390,"hi1":0.768,"hi2":1.347},
{"t":76.52,"mean":0.182,"lo2":-0.980,"lo1":-0.399,"hi1":0.763,"hi2":1.344},
{"t":76.71,"mean":0.189,"lo2":-0.975,"lo1":-0.393,"hi1":0.771,"hi2":1.353},
{"t":76.91,"mean":0.228,"lo2":-0.938,"lo1":-0.355,"hi1":0.811,"hi2":1.394},
{"t":77.16,"mean":0.301,"lo2":-0.867,"lo1":-0.283,"hi1":0.885,"hi2":1.469},
{"t":77.5,"mean":0.368,"lo2":-0.804,"lo1":-0.218,"hi1":0.954,"hi2":1.540},
{"t":77.7,"mean":0.382,"lo2":-0.792,"lo1":-0.205,"hi1":0.969,"hi2":1.556},
{"t":77.95,"mean":0.411,"lo2":-0.767,"lo1":-0.178,"hi1":1.000,"hi2":1.589},
{"t":78.35,"mean":0.411,"lo2":-0.771,"lo1":-0.180,"hi1":1.002,"hi2":1.593},
{"t":78.59,"mean":0.395,"lo2":-0.789,"lo1":-0.197,"hi1":0.987,"hi2":1.579},
{"t":78.98,"mean":0.358,"lo2":-0.830,"lo1":-0.236,"hi1":0.952,"hi2":1.546},
{"t":79.18,"mean":0.361,"lo2":-0.829,"lo1":-0.234,"hi1":0.956,"hi2":1.551},
{"t":79.54,"mean":0.395,"lo2":-0.799,"lo1":-0.202,"hi1":0.992,"hi2":1.589},
{"t":79.73,"mean":0.384,"lo2":-0.812,"lo1":-0.214,"hi1":0.982,"hi2":1.580},
{"t":80.0,"mean":0.391,"lo2":-0.809,"lo1":-0.209,"hi1":0.991,"hi2":1.591}
]},
"encoding": {
  "x": {"field": "t", "type": "quantitative", "scale": {"domain": [-4, 84], "nice": false, "zero": false},
        "axis": {"values": [0,10,20,30,40,50,60,70,80], "title": "t", "titleFont": "Liberation Sans", "titleFontSize": 40, "titleFontWeight": "normal", "labelPadding": 18, "titlePadding": 12, "format": "d"}}
},
"layer": [
  {"mark": {"type": "area", "opacity": 1},
   "encoding": {
     "y": {"field": "lo2", "type": "quantitative", "scale": {"domain": [-1.139, 1.713], "nice": false, "zero": false},
           "axis": {"values": [-1.0,-0.5,0.0,0.5,1.0,1.5], "format": ".1f", "title": null, "labelPadding": 19}},
     "y2": {"field": "hi2"},
     "color": {"datum": "J ± 2σ", "type": "nominal",
       "scale": {"domain": ["J ± σ-standard deviation", "J ± 2σ", "J-ensemble mean"], "range": ["#ccccff", "#f0f0fd", "#0000ff"]}}
   }},
  {"mark": {"type": "area", "opacity": 1},
   "encoding": {
     "y": {"field": "lo1", "type": "quantitative"},
     "y2": {"field": "hi1"},
     "color": {"datum": "J ± σ-standard deviation", "type": "nominal"}
   }},
  {"mark": {"type": "line", "stroke": "#1a1aff", "strokeWidth": 1, "strokeDash": [4, 2]},
   "encoding": {"y": {"field": "hi2", "type": "quantitative"}}},
  {"mark": {"type": "line", "stroke": "#1a1aff", "strokeWidth": 1, "strokeDash": [4, 2]},
   "encoding": {"y": {"field": "lo2", "type": "quantitative"}}},
  {"mark": {"type": "line", "stroke": "#2525ff", "strokeWidth": 1.2, "strokeOpacity": 0.95},
   "encoding": {"y": {"field": "hi1", "type": "quantitative"}}},
  {"mark": {"type": "line", "stroke": "#2525ff", "strokeWidth": 1.2, "strokeOpacity": 0.95},
   "encoding": {"y": {"field": "lo1", "type": "quantitative"}}},
  {"mark": {"type": "line", "stroke": "#0000ff", "strokeWidth": 2.2},
   "encoding": {"y": {"field": "mean", "type": "quantitative"}}},
  {"mark": {"type": "point", "size": 0, "filled": false},
   "encoding": {"y": {"field": "mean", "type": "quantitative"},
     "color": {"datum": "J-ensemble mean", "type": "nominal"},
     "shape": {"datum": "J-ensemble mean", "type": "nominal",
       "scale": {"domain": ["J ± σ-standard deviation", "J ± 2σ", "J-ensemble mean"], "range": ["M-1,-0.9H4.2V0.9H-1Z", "M-1,-0.9H4.2V0.9H-1Z", "M-1,0H4.2"]}}}}
]
}
